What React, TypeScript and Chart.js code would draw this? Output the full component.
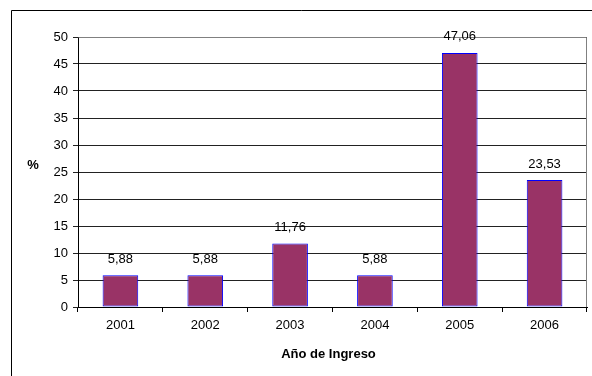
import React, { useEffect, useRef } from "react";
import { Chart, registerables } from "chart.js";

Chart.register(...registerables);

const categories = ["2001", "2002", "2003", "2004", "2005", "2006"];
const values = [5.88, 5.88, 11.76, 5.88, 47.06, 23.53];
const valueLabels = ["5,88", "5,88", "11,76", "5,88", "47,06", "23,53"];
const yTitle = "%";
const xTitle = "Año de Ingreso";

const FONT = "'Liberation Sans', Arial, sans-serif";

const decorPlugin = {
  id: "decor",
  beforeDraw(chart: any) {
    const ctx = chart.ctx;
    ctx.save();
    ctx.fillStyle = "#ffffff";
    ctx.fillRect(0, 0, chart.width, chart.height);
    ctx.strokeStyle = "#000000";
    ctx.lineWidth = 1;
    ctx.beginPath();
    ctx.moveTo(11.5, chart.height);
    ctx.lineTo(11.5, 10.5);
    ctx.lineTo(chart.width, 10.5);
    ctx.stroke();
    ctx.restore();
  },
  afterDatasetsDraw(chart: any) {
    const ctx = chart.ctx;
    const area = chart.chartArea;
    ctx.save();
    ctx.strokeStyle = "#808080";
    ctx.lineWidth = 1;
    ctx.beginPath();
    ctx.moveTo(Math.round(area.left) + 0.5, Math.round(area.top) + 0.5);
    ctx.lineTo(Math.round(area.right) - 0.5, Math.round(area.top) + 0.5);
    ctx.lineTo(Math.round(area.right) - 0.5, Math.round(area.bottom));
    ctx.stroke();
    ctx.fillStyle = "#000000";
    ctx.font = `13px ${FONT}`;
    ctx.textAlign = "center";
    ctx.textBaseline = "middle";
    const meta = chart.getDatasetMeta(0);
    meta.data.forEach((bar: any, i: number) => {
      ctx.fillText(valueLabels[i], bar.x, bar.y - 16);
    });
    ctx.font = `bold 13px ${FONT}`;
    ctx.fillText(yTitle, 33, 165);
    ctx.fillText(xTitle, (area.left + area.right) / 2 - 4, 354);
    ctx.restore();
  },
};

export default function App() {
  const ref = useRef<HTMLCanvasElement>(null);
  useEffect(() => {
    if (!ref.current) return;
    const chart = new Chart(ref.current, {
      type: "bar",
      data: {
        labels: categories,
        datasets: [
          {
            data: values,
            backgroundColor: "#993366",
            borderColor: "#0000ff",
            borderWidth: 1,
            borderSkipped: false,
            barPercentage: 0.42,
            categoryPercentage: 1,
          },
        ],
      },
      options: {
        animation: false,
        responsive: false,
        maintainAspectRatio: false,
        devicePixelRatio: 1,
        layout: { padding: { top: 37, right: 5, left: 0, bottom: 0 } },
        plugins: {
          legend: { display: false },
          tooltip: { enabled: false },
          title: { display: false },
        },
        scales: {
          x: {
            offset: true,
            grid: {
              display: true,
              drawOnChartArea: false,
              offset: true,
              tickLength: 5,
              color: "#000000",
            },
            border: { display: true, color: "#000000", width: 1 },
            ticks: {
              color: "#000000",
              font: { family: FONT, size: 13 },
              padding: 6,
              maxRotation: 0,
            },
            afterFit(scale: any) {
              scale.height = 69;
            },
          },
          y: {
            min: 0,
            max: 50,
            ticks: {
              stepSize: 5,
              color: "#000000",
              font: { family: FONT, size: 13 },
              padding: 5,
            },
            grid: {
              color: "#222222",
              tickLength: 5,
              lineWidth: 1,
            },
            border: { display: true, color: "#000000", width: 1 },
            afterFit(scale: any) {
              scale.width = 78;
            },
          },
        },
      },
      plugins: [decorPlugin],
    });
    return () => chart.destroy();
  }, []);
  return (
    <div style={{ position: "fixed", left: 0, top: 0, width: 592, height: 376, background: "#fff" }}>
      <canvas ref={ref} width={592} height={376} style={{ display: "block", width: 592, height: 376 }} />
    </div>
  );
}
